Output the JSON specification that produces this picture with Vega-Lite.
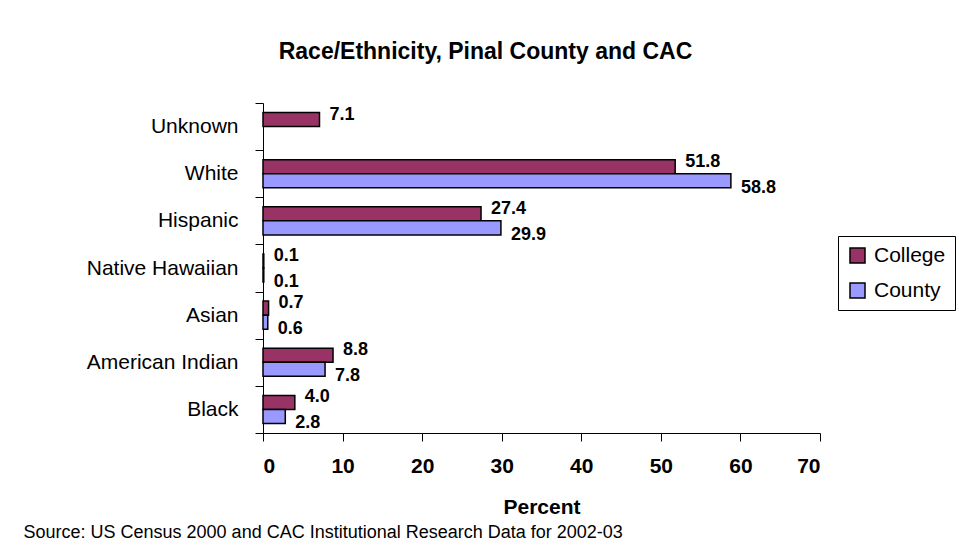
{
  "$schema": "https://vega.github.io/schema/vega-lite/v6.json",
  "autosize": {"type": "none"},
  "width": 557,
  "height": 330,
  "padding": {"left": 263, "top": 103, "right": 139, "bottom": 113},
  "background": "white",
  "config": {
    "font": "Liberation Sans",
    "view": {"stroke": null},
    "axis": {"domainColor": "black", "tickColor": "black", "labelColor": "black", "titleColor": "black", "grid": false}
  },
  "title": {
    "text": "Race/Ethnicity, Pinal County and CAC",
    "anchor": "middle",
    "frame": "group",
    "dx": -56,
    "offset": 10,
    "baseline": "alphabetic",
    "fontSize": 23,
    "fontWeight": "bold",
    "color": "black"
  },
  "data": {
    "values": [
      {"category": "Unknown", "series": "College", "value": 7.1},
      {"category": "White", "series": "College", "value": 51.8},
      {"category": "White", "series": "County", "value": 58.8},
      {"category": "Hispanic", "series": "College", "value": 27.4},
      {"category": "Hispanic", "series": "County", "value": 29.9},
      {"category": "Native Hawaiian", "series": "College", "value": 0.1},
      {"category": "Native Hawaiian", "series": "County", "value": 0.1},
      {"category": "Asian", "series": "College", "value": 0.7},
      {"category": "Asian", "series": "County", "value": 0.6},
      {"category": "American Indian", "series": "College", "value": 8.8},
      {"category": "American Indian", "series": "County", "value": 7.8},
      {"category": "Black", "series": "College", "value": 4.0},
      {"category": "Black", "series": "County", "value": 2.8}
    ]
  },
  "encoding": {
    "y": {
      "field": "category",
      "type": "nominal",
      "sort": ["Unknown", "White", "Hispanic", "Native Hawaiian", "Asian", "American Indian", "Black"],
      "scale": {"paddingInner": 0, "paddingOuter": 0},
      "axis": {
        "title": "Source:  US Census 2000 and CAC Institutional Research Data for 2002-03",
        "titleAngle": 0,
        "titleAlign": "left",
        "titleBaseline": "alphabetic",
        "titleX": -240,
        "titleY": 434,
        "titleFontSize": 18,
        "titleFontWeight": "normal",
        "labelFontSize": 21,
        "labelPadding": 17,
        "tickSize": 8,
        "tickBand": "extent",
        "labelLimit": 300
      }
    },
    "yOffset": {
      "field": "series",
      "type": "nominal",
      "scale": {"domain": ["College", "County"], "paddingInner": 0, "paddingOuter": 0.68}
    },
    "x": {
      "field": "value",
      "type": "quantitative",
      "scale": {"domain": [0, 70], "nice": false},
      "axis": {
        "title": "Percent",
        "values": [0, 10, 20, 30, 40, 50, 60, 70],
        "tickSize": 8,
        "labelFontSize": 21,
        "labelFontWeight": "bold",
        "labelPadding": 14,
        "titleFontSize": 21,
        "titleFontWeight": "bold",
        "titlePadding": 20
      }
    }
  },
  "layer": [
    {
      "mark": {"type": "bar", "stroke": "black", "strokeWidth": 1.5},
      "encoding": {
        "color": {
          "field": "series",
          "type": "nominal",
          "scale": {"domain": ["College", "County"], "range": ["#993366", "#9999FF"]},
          "legend": {
            "title": null,
            "orient": "none",
            "legendX": 575,
            "legendY": 133,
            "strokeColor": "black",
            "padding": 9,
            "symbolType": "square",
            "symbolSize": 225,
            "symbolStrokeColor": "black",
            "symbolStrokeWidth": 1.5,
            "symbolOpacity": 1,
            "labelFontSize": 21,
            "labelColor": "black",
            "labelOffset": 6,
            "rowPadding": 13
          }
        }
      }
    },
    {
      "transform": [{"filter": "datum.series === 'College'"}],
      "mark": {"type": "text", "align": "left", "baseline": "middle", "dx": 10, "dy": -5, "fontSize": 18, "fontWeight": "bold", "color": "black"},
      "encoding": {
        "text": {"field": "value", "type": "quantitative", "format": ".1f"}
      }
    },
    {
      "transform": [{"filter": "datum.series === 'County'"}],
      "mark": {"type": "text", "align": "left", "baseline": "middle", "dx": 10, "dy": 7, "fontSize": 18, "fontWeight": "bold", "color": "black"},
      "encoding": {
        "text": {"field": "value", "type": "quantitative", "format": ".1f"}
      }
    }
  ]
}
